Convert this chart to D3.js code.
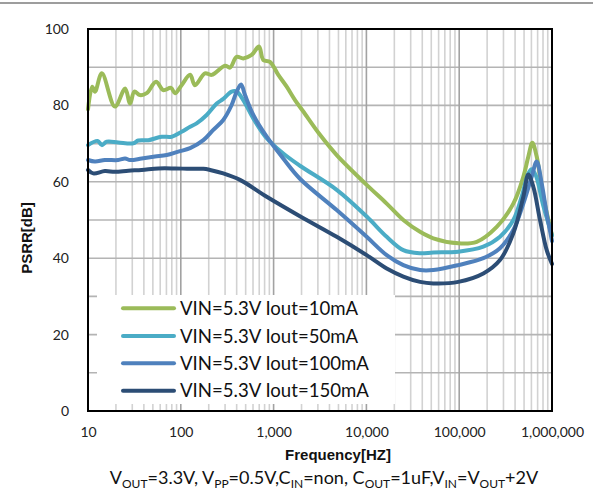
<!DOCTYPE html>
<html><head><meta charset="utf-8">
<script src="https://cdn.jsdelivr.net/npm/d3@7/dist/d3.min.js"></script>
<style>
html,body{margin:0;padding:0;background:#fff;}
svg{display:block;}
</style></head>
<body>
<svg id="chart" width="593" height="499"></svg>
<script>
// ---------- DATA ----------
const seriesNames = ["VIN=5.3V Iout=10mA","VIN=5.3V Iout=50mA","VIN=5.3V Iout=100mA","VIN=5.3V Iout=150mA"];
const seriesColors = ["#9BBB59","#4BACC6","#4F81BD","#2C4D75"];

const freq10mA = [10,11.1,11.9,14.1,19.5,25.1,28.4,31.6,36.3,42.9,54.1,64.7,78.4,86.6,102,126,142,182,215,299,339,400,471,580,696,774,914,1124,1384,1701,2090,3162,4786,10070,16550,25000,37840,52600,97800,154500,253700,383000,491000,556000,614000,684000,806000,1000000];
const psrr10mA = [79,84.9,83.6,88.4,79.7,84.4,80.5,83.6,82.7,83.2,86.2,84.0,84.6,83.2,85.3,88.0,85.3,88.4,88.0,90.4,89.9,92.7,92.3,93.2,95.4,91.9,91.4,88.0,84.9,81.4,78.4,72.3,67.0,59.2,54.3,50.0,46.9,45.2,43.9,44.3,48.2,54.3,61.3,66.6,70.2,66.6,56.1,46];

const freq50mA = [10,12.7,14.1,15.9,21.2,30.8,34.8,44.7,62.2,79.8,102,126,148,190,244,287,353,400,471,604,843,1271,1923,4786,10070,16550,25000,37840,52600,97800,182000,275000,383000,471000,556000,604000,673000,800000,1000000];
const psrr50mA = [69.6,70.7,69.6,70.5,70.3,70.1,70.8,70.9,71.8,71.8,73.1,74.4,75.3,77.5,80.5,81.7,83.6,83.6,81.4,76.6,71.4,67.4,64.2,57.9,50.9,45.6,42.1,41.3,41.5,41.7,43.0,45.6,50.0,56.1,62.2,63.3,61.5,54,46];

const freq100mA = [10,11.9,15.2,21.2,25.1,28.4,37.9,52.7,70.5,94,126,175,224,287,353,400,446,492,604,843,1271,1923,4786,10070,16550,25000,37840,52600,97800,182000,275000,383000,491000,604000,684000,774000,877000,1000000];
const psrr100mA = [65.7,65.3,65.7,65.7,66.1,65.7,66.1,66.6,67.0,67.9,68.8,70.9,73.6,76.2,80.1,83.6,85.5,82.7,77.5,71.8,66.1,60.8,52.6,45.6,40.8,38.2,36.9,36.9,38.2,40.0,42.6,47.4,54.3,61.3,65.3,59.6,51.7,44.5];

const freq150mA = [10,11.4,15.2,19.5,27.2,37.9,57.3,86.6,126,175,207,287,434,843,1923,4786,10070,16550,25000,37840,52600,97800,182000,275000,383000,491000,556000,629000,743000,877000,1000000];
const psrr150mA = [63.1,62.2,62.8,62.6,62.9,63.1,63.5,63.5,63.4,63.4,63.1,62.2,60.5,56.1,51.0,45.6,40.8,37.3,35.2,33.8,33.4,33.8,36.0,39.5,46.5,56.1,61.9,58.7,50.0,42.1,38.5];

const xTickValues = [10,100,1000,10000,100000,1000000];
const xTickLabels = ["10","100","1,000","10,000","100,000","1,000,000"];
const yTickValues = [0,20,40,60,80,100];
const yGridValues = [10,20,30,40,50,60,70,80,90];

const seriesFreqs = [freq10mA,freq50mA,freq100mA,freq150mA];
const seriesVals = [psrr10mA,psrr50mA,psrr100mA,psrr150mA];

// ---------- LAYOUT ----------
const svg = d3.select("#chart");
const L = 88, R = 552, T = 29, B = 411;
const x = d3.scaleLog().domain([10,1e6]).range([L,R]);
const y = d3.scaleLinear().domain([0,100]).range([B,T]);
const labelFont = "Lato, 'Open Sans', sans-serif";
const boldFont = "'Liberation Sans', Arial, sans-serif";

// top gray rule
svg.append("rect").attr("x",0).attr("y",2).attr("width",593).attr("height",2).attr("fill","#9d9d9d");

// grid
const g = svg.append("g");
const minor = [];
for (let d = 10; d < 1e6; d *= 10) for (let k = 2; k <= 9; k++) minor.push(d*k);
g.selectAll("line.minor").data(minor).join("line")
  .attr("x1",d=>x(d)).attr("x2",d=>x(d)).attr("y1",T).attr("y2",B)
  .attr("stroke","#d2d2d2").attr("stroke-width",1.6);
g.selectAll("line.hgrid").data(yGridValues).join("line")
  .attr("x1",L).attr("x2",R).attr("y1",d=>y(d)).attr("y2",d=>y(d))
  .attr("stroke","#b4b4b4").attr("stroke-width",1.6);
g.selectAll("line.major").data(xTickValues.slice(1,-1)).join("line")
  .attr("x1",d=>x(d)).attr("x2",d=>x(d)).attr("y1",T).attr("y2",B)
  .attr("stroke","#a2a2a2").attr("stroke-width",1.6);

// lines
const line = d3.line().x(d=>x(d[0])).y(d=>y(d[1])).curve(d3.curveCatmullRom.alpha(0.5));
seriesFreqs.forEach((fs,i)=>{
  const pts = fs.map((f,j)=>[f,seriesVals[i][j]]);
  svg.append("path").datum(pts).attr("d",line)
    .attr("fill","none").attr("stroke",seriesColors[i]).attr("stroke-width",4)
    .attr("stroke-linejoin","round").attr("stroke-linecap","round");
});

// frame
svg.append("rect").attr("x",L).attr("y",T).attr("width",R-L).attr("height",B-T)
  .attr("fill","none").attr("stroke","#000").attr("stroke-width",2);

// legend
const lg = svg.append("g");
lg.append("rect").attr("x",97).attr("y",295).attr("width",298).attr("height",109).attr("fill","#fff");
const rowY = [308.3,336,363.3,390.7];
seriesNames.forEach((n,i)=>{
  lg.append("line").attr("x1",123).attr("x2",174).attr("y1",rowY[i]).attr("y2",rowY[i])
    .attr("stroke",seriesColors[i]).attr("stroke-width",4).attr("stroke-linecap","round");
  lg.append("text").attr("x",180).attr("y",rowY[i]+6.6).text(n)
    .attr("font-family",labelFont).attr("font-size",18.6).attr("fill","#111");
});

// axes
const xAxis = d3.axisBottom(x).tickValues(xTickValues).tickFormat((d,i)=>xTickLabels[i]).tickSize(0).tickPadding(16);
const xa = svg.append("g").attr("transform",`translate(0,${B})`).call(xAxis);
xa.select(".domain").remove();
xa.selectAll("text").attr("font-family",labelFont).attr("font-size",14).attr("fill","#222");

const yAxis = d3.axisLeft(y).tickValues(yTickValues).tickSize(0).tickPadding(19);
const ya = svg.append("g").attr("transform",`translate(${L},0)`).call(yAxis);
ya.select(".domain").remove();
ya.selectAll("text").attr("font-family",labelFont).attr("font-size",14).attr("fill","#222");

// axis titles
svg.append("text").attr("x",338).attr("y",460).attr("text-anchor","middle")
  .attr("font-family",boldFont).attr("font-weight","bold").attr("font-size",15).attr("fill","#111")
  .text("Frequency[HZ]");
svg.append("text").attr("transform","translate(32,238) rotate(-90)").attr("text-anchor","middle")
  .attr("font-family",boldFont).attr("font-weight","bold").attr("font-size",15).attr("fill","#111")
  .text("PSRR[dB]");

// caption with subscripts
const cap = svg.append("text").attr("x",324).attr("y",484).attr("text-anchor","middle")
  .attr("font-family",labelFont).attr("font-size",18).attr("fill","#111");
const parts = [["V",0],["OUT",1],["=3.3V, V",0],["PP",1],["=0.5V,C",0],["IN",1],["=non, C",0],["OUT",1],["=1uF,V",0],["IN",1],["=V",0],["OUT",1],["+2V",0]];
let prevSub = 0;
parts.forEach(([t,s])=>{
  const ts = cap.append("tspan").text(t);
  if (s) ts.attr("font-size",12);
  const dy = (s?4:0) - (prevSub?4:0);
  if (dy) ts.attr("dy",dy);
  prevSub = s;
});
</script>
</body></html>
